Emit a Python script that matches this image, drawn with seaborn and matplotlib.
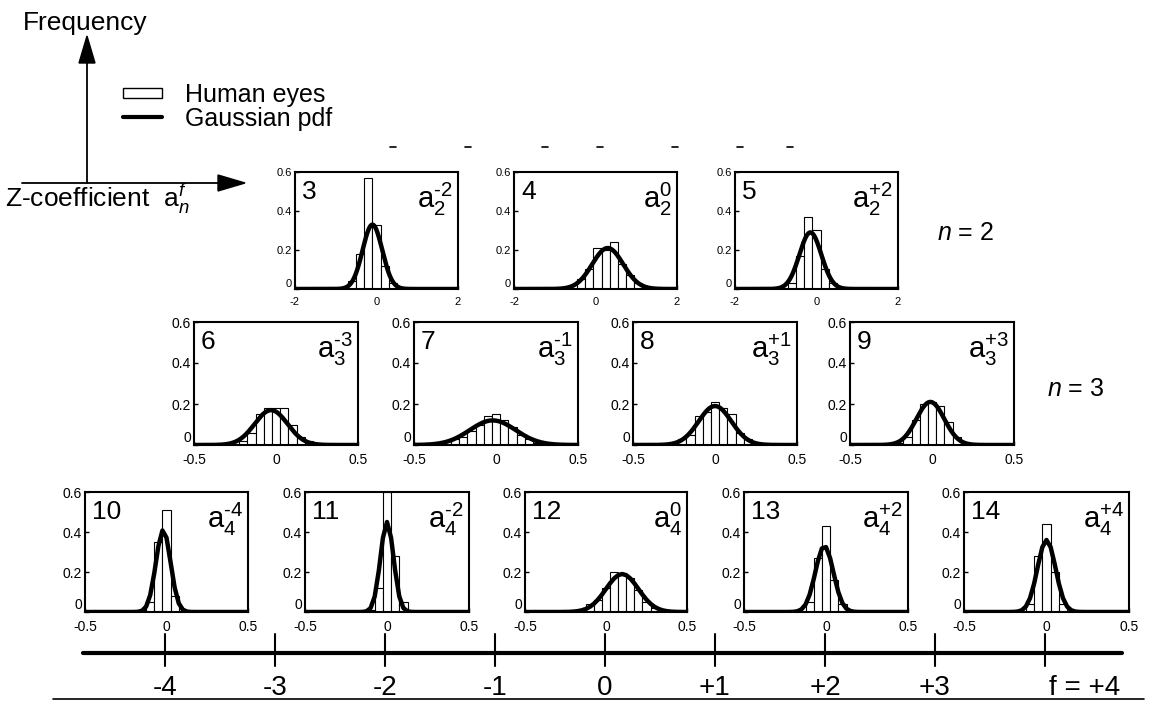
import numpy as np
import pandas as pd
import matplotlib
matplotlib.use("Agg")
import matplotlib.pyplot as plt
import seaborn as sns

# ---- data ---------------------------------------------------------------
panel_ids = [3, 4, 5, 6, 7, 8, 9, 10, 11, 12, 13, 14]
orders_n = [2, 2, 2, 3, 3, 3, 3, 4, 4, 4, 4, 4]
freqs_f = [-2, 0, 2, -3, -1, 1, 3, -4, -2, 0, 2, 4]

# histogram of the Zernike coefficients (bin width, first bin centre, heights)
bin_width = [0.2, 0.2, 0.2, 0.05, 0.05, 0.05, 0.05, 0.05, 0.05, 0.05, 0.05, 0.05]
first_center = [-0.6, -0.35, -0.6, -0.2, -0.3, -0.2, -0.2, -0.15, -0.1, -0.1, -0.1, -0.1]
heights_3 = [0.04, 0.18, 0.57, 0.33, 0.12, 0.03]
heights_4 = [0.05, 0.10, 0.21, 0.20, 0.24, 0.13, 0.07, 0.03]
heights_5 = [0.03, 0.17, 0.37, 0.30, 0.10, 0.03]
heights_6 = [0.02, 0.06, 0.15, 0.18, 0.18, 0.18, 0.10, 0.04, 0.02]
heights_7 = [0.02, 0.03, 0.04, 0.07, 0.10, 0.14, 0.15, 0.12, 0.09, 0.05, 0.03, 0.01]
heights_8 = [0.03, 0.05, 0.14, 0.16, 0.21, 0.18, 0.15, 0.06, 0.03]
heights_9 = [0.01, 0.04, 0.12, 0.20, 0.21, 0.19, 0.11, 0.04, 0.01]
heights_10 = [0.01, 0.05, 0.35, 0.51, 0.08]
heights_11 = [0.01, 0.12, 0.60, 0.28, 0.05]
heights_12 = [0.04, 0.06, 0.12, 0.20, 0.19, 0.17, 0.11, 0.05, 0.02]
heights_13 = [0.05, 0.27, 0.43, 0.16, 0.04]
heights_14 = [0.04, 0.28, 0.44, 0.20, 0.04]
heights_all = [heights_3, heights_4, heights_5, heights_6, heights_7, heights_8,
               heights_9, heights_10, heights_11, heights_12, heights_13, heights_14]

# fitted Gaussian pdf: mean, standard deviation, peak height
gauss_mean = [-0.10, 0.30, -0.15, -0.03, -0.02, 0.00, -0.01, -0.02, 0.00, 0.10, -0.01, 0.00]
gauss_sd = [0.24, 0.38, 0.27, 0.10, 0.14, 0.10, 0.085, 0.045, 0.04, 0.10, 0.055, 0.055]
gauss_peak = [0.33, 0.21, 0.29, 0.17, 0.12, 0.19, 0.21, 0.41, 0.45, 0.19, 0.33, 0.36]

axis_ticks = [-4, -3, -2, -1, 0, 1, 2, 3, 4]
axis_labels = ["-4", "-3", "-2", "-1", "0", "+1", "+2", "+3", "f = +4"]
y_ticks = [0, 0.2, 0.4, 0.6]
y_ticklabels = ["0", "0.2", "0.4", "0.6"]

# ---- style --------------------------------------------------------------
sns.set_theme(style="white")
plt.rcParams["font.family"] = ["Liberation Sans", "DejaVu Sans"]
plt.rcParams["mathtext.fontset"] = "custom"
plt.rcParams["mathtext.rm"] = "Liberation Sans"
plt.rcParams["mathtext.it"] = "Liberation Sans:italic"
plt.rcParams["mathtext.bf"] = "Liberation Sans:bold"
plt.rcParams["text.color"] = "black"
plt.rcParams["xtick.color"] = "black"
plt.rcParams["ytick.color"] = "black"
plt.rcParams["axes.labelcolor"] = "black"

W, H = 1154, 701
fig = plt.figure(figsize=(W / 100, H / 100), dpi=100)
fig.patch.set_facecolor("white")

# overlay in pixel coordinates for arrows, legend and the frequency axis
ov = fig.add_axes([0, 0, 1, 1], zorder=0)
ov.set_xlim(0, W)
ov.set_ylim(H, 0)
ov.axis("off")


def px_box(l, t, r, b):
    return [l / W, 1 - b / H, (r - l) / W, (b - t) / H]


# panel boxes (left, top, right, bottom) in pixels
boxes = [
    (295, 172, 458, 289), (514, 172, 677, 289), (735, 172, 898, 289),
    (194, 322, 358, 445), (414, 322, 578, 445), (633, 322, 797, 445), (850, 322, 1014, 445),
    (85, 492, 248, 612), (305, 492, 469, 612), (525, 492, 687, 612),
    (744, 492, 908, 612), (964, 492, 1129, 612),
]

for i, pid in enumerate(panel_ids):
    l, t, r, b = boxes[i]
    ax = fig.add_axes(px_box(l, t, r, b), zorder=2)
    n, f = orders_n[i], freqs_f[i]
    wide = n == 2
    xlo, xhi = (-2, 2) if wide else (-0.5, 0.5)

    w = bin_width[i]
    hist = pd.DataFrame({"height": heights_all[i]})
    hist["center"] = first_center[i] + w * np.arange(len(hist))
    lo_edge = float(hist["center"].iloc[0] - w / 2)
    hi_edge = float(hist["center"].iloc[-1] + w / 2)
    sns.histplot(data=hist, x="center", weights="height", binwidth=w,
                 binrange=(lo_edge, hi_edge), ax=ax, stat="count",
                 color="white", edgecolor="black", linewidth=0.8, alpha=1.0)

    step = 0.025 if n == 4 else 0.005
    xs = np.arange(xlo, xhi + step / 2, step)
    curve = pd.DataFrame({
        "x": xs,
        "pdf": gauss_peak[i] * np.exp(-0.5 * ((xs - gauss_mean[i]) / gauss_sd[i]) ** 2),
    })
    sns.lineplot(data=curve, x="x", y="pdf", ax=ax, color="black", linewidth=3.2)

    ax.set_xlim(xlo, xhi)
    ax.set_ylim(0, 0.6)
    ax.set_xlabel("")
    ax.set_ylabel("")
    if wide:
        ax.set_xticks([-2, 0, 2])
        ax.set_xticklabels(["-2", "0", "2"])
        lsz = 8
    else:
        ax.set_xticks([-0.5, 0, 0.5])
        ax.set_xticklabels(["-0.5", "0", "0.5"])
        lsz = 10
    ax.set_yticks(y_ticks)
    ax.set_yticklabels(y_ticklabels)
    ax.tick_params(direction="in", length=3, width=1, labelsize=lsz,
                   colors="black", left=True, bottom=True)
    ax.tick_params(axis="x", pad=6)
    ax.tick_params(axis="y", pad=2)
    ax.get_yticklabels()[0].set_verticalalignment("bottom")
    for s in ax.spines.values():
        s.set_color("black")
        s.set_linewidth(1.5)

    pw, ph = r - l, b - t
    ax.text(7 / pw, 1 - 8 / ph, str(pid), transform=ax.transAxes,
            ha="left", va="top", fontsize=19, color="black")
    if f > 0:
        sup = "+%d" % f
    elif f < 0:
        sup = r"\text{-}%d" % (-f)
    else:
        sup = "0"
    ax.text(1 - 5 / pw, 1 - 9 / ph, r"$\mathrm{a}_{%d}^{%s}$" % (n, sup),
            transform=ax.transAxes, ha="right", va="top", fontsize=21, color="black")

# row labels
ov.text(937, 233, r"$n$ = 2", fontsize=18, ha="left", va="center")
ov.text(1047, 389, r"$n$ = 3", fontsize=18, ha="left", va="center")

# frequency / Z-coefficient arrows
ov.text(23, 23, "Frequency", fontsize=19, ha="left", va="center")
ov.plot([87, 87], [183, 60], color="black", lw=1.3)
ov.fill([87, 79, 95], [36, 63, 63], color="black")
ov.plot([22, 220], [183, 183], color="black", lw=1.3)
ov.fill([245, 218, 218], [183, 175, 191], color="black")
ov.text(5, 199, r"Z-coefficient  $\mathrm{a}_{n}^{f}$", fontsize=19, ha="left", va="center")

# legend
ov.add_patch(plt.Rectangle((123, 88), 39, 10, facecolor="white",
                           edgecolor="black", lw=1.0))
ov.text(185, 95, "Human eyes", fontsize=18, ha="left", va="center")
ov.plot([123, 162], [117, 117], color="black", lw=3)
ov.text(185, 119, "Gaussian pdf", fontsize=18, ha="left", va="center")

# small marks above the first row
for xd in [393, 468, 545, 600, 675, 740, 790]:
    ov.plot([xd - 3, xd + 3], [147, 147], color="black", lw=1.2)

# azimuthal frequency axis
x0, dx = 165, 110
ov.plot([83, 1122], [653, 653], color="black", lw=3)
for tv, tl in zip(axis_ticks, axis_labels):
    xp = x0 + dx * (tv - axis_ticks[0])
    ov.plot([xp, xp], [634, 666], color="black", lw=1.5)
    if tl.startswith("f"):
        ov.text(xp + 4, 688, tl, fontsize=20, ha="left", va="center")
    else:
        ov.text(xp, 688, tl, fontsize=20, ha="center", va="center")
ov.plot([53, 1144], [699, 699], color="black", lw=1.2)

fig.savefig("out.png", dpi=100, facecolor="white")
